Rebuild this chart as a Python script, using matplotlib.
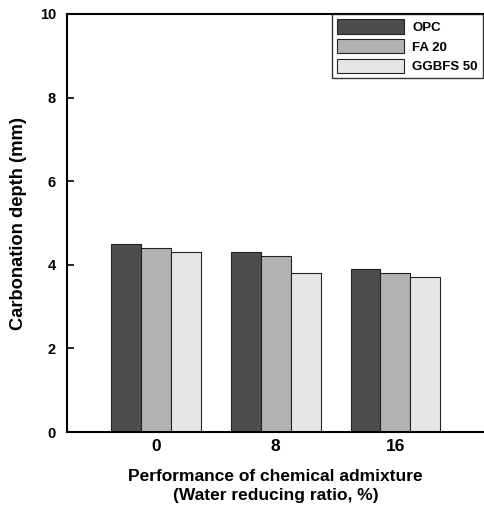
import numpy as np
import matplotlib.pyplot as plt

plt.rcParams['font.family'] = ['Liberation Sans', 'DejaVu Sans']
plt.rcParams['font.weight'] = 'bold'

# Carbonation depth by water reducing ratio
ratios = ['0', '8', '16']
opc = [4.5, 4.3, 3.9]
fa20 = [4.4, 4.2, 3.8]
ggbfs50 = [4.3, 3.8, 3.7]

series = [('OPC', opc, '#4d4d4d'),
          ('FA 20', fa20, '#b2b2b2'),
          ('GGBFS 50', ggbfs50, '#e6e6e6')]

fig = plt.figure(figsize=(4.84, 5.11), dpi=100)
ax = fig.add_axes([67 / 484, 1 - 432 / 511, 1 - 67 / 484, 418 / 511])

x = np.arange(len(ratios))
width = 0.25
for i, (name, vals, col) in enumerate(series):
    ax.bar(x + (i - 1) * width, vals, width, color=col, edgecolor='#222222',
           linewidth=0.8, label=name)

ax.set_xlim(-0.745, 2.74)
ax.set_ylim(0, 10)
ax.set_yticks([0, 2, 4, 6, 8, 10])
ax.set_xticks(x)
ax.set_xticklabels(ratios)
ax.tick_params(axis='y', direction='in', length=5, width=1.2, labelsize=10.5, pad=8)
ax.tick_params(axis='x', length=0, labelsize=12.5, pad=5)
for lab in ax.get_xticklabels() + ax.get_yticklabels():
    lab.set_fontweight('bold')

for s in ['left', 'bottom', 'top']:
    ax.spines[s].set_linewidth(1.5)
ax.spines['right'].set_visible(False)

ax.set_ylabel('Carbonation depth (mm)', fontsize=13.2, fontweight='bold', labelpad=9)
ax.set_xlabel('Performance of chemical admixture\n(Water reducing ratio, %)',
              fontsize=12.5, fontweight='bold', labelpad=11, linespacing=1.35)

leg = ax.legend(loc='upper right', bbox_to_anchor=(0.998, 1.0), fontsize=9.5,
                frameon=True, fancybox=False, edgecolor='black',
                handlelength=5.1, handleheight=1.3, borderaxespad=0,
                labelspacing=0.38, handletextpad=0.6, borderpad=0.4)
leg.get_frame().set_linewidth(1.0)
for t in leg.get_texts():
    t.set_fontweight('bold')

fig.savefig('out.png', dpi=100)
